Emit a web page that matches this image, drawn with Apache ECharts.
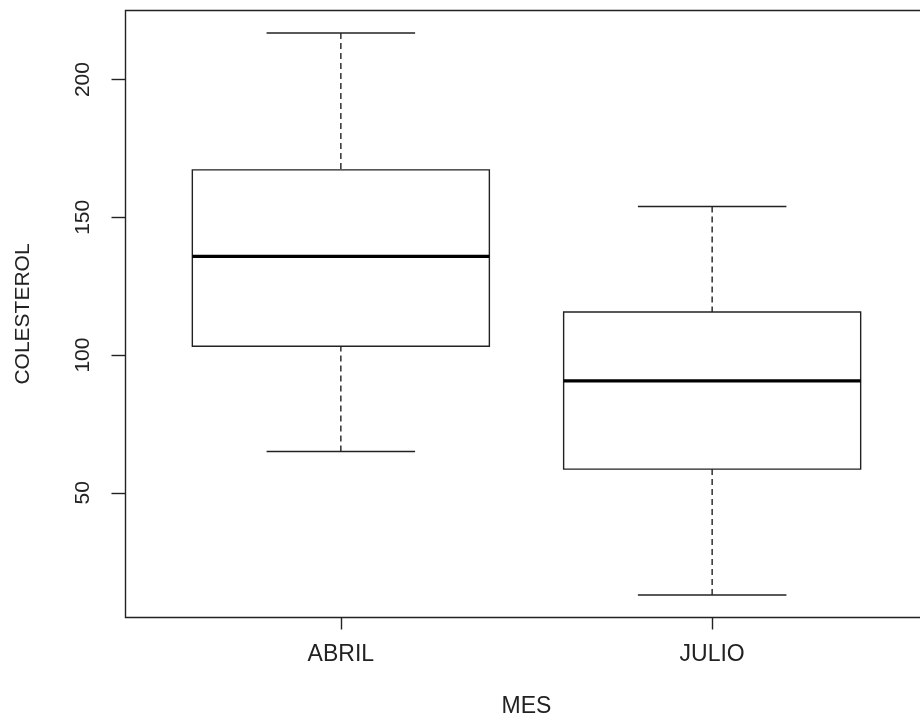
<!DOCTYPE html>
<html>
<head>
<meta charset="utf-8">
<script src="https://cdn.jsdelivr.net/npm/echarts@6/dist/echarts.min.js"></script>
<style>
html,body{margin:0;padding:0;background:#fff;}
#chart{width:920px;height:719px;}
</style>
</head>
<body>
<div id="chart"></div>
<script>
const categories = ['ABRIL', 'JULIO'];
const whiskerLow = [65.0, 12.9];
const lowerQuartile = [103.2, 58.6];
const medians = [135.8, 90.6];
const upperQuartile = [167.2, 115.6];
const whiskerHigh = [216.9, 153.9];
const yTicks = [50, 100, 150, 200];
const xTitle = 'MES';
const yTitle = 'COLESTEROL';

const boxData = categories.map((c, i) => [i + 1, whiskerLow[i], lowerQuartile[i], medians[i], upperQuartile[i], whiskerHigh[i]]);
const xTickValues = categories.map((c, i) => i + 1);

const INK = '#222';
const FONT = '"Liberation Sans", Arial, sans-serif';
const LW = 1.4;

const chart = echarts.init(document.getElementById('chart'), null, {renderer: 'canvas'});
chart.setOption({
  backgroundColor: '#fff',
  animation: false,
  grid: {
    left: 125.5, top: 10.5, bottom: 101.5, right: -7.5,
    show: true, borderColor: INK, borderWidth: LW, backgroundColor: '#fff',
    containLabel: false, outerBoundsMode: 'none'
  },
  xAxis: {
    type: 'value', min: 0.42, max: 2.58,
    name: xTitle, nameLocation: 'middle', nameGap: 78,
    nameTextStyle: {fontFamily: FONT, fontSize: 23, color: INK},
    axisLine: {show: false},
    splitLine: {show: false},
    axisTick: {show: true, customValues: xTickValues, length: 12, lineStyle: {color: INK, width: LW}},
    axisLabel: {show: true, customValues: xTickValues, margin: 26, fontFamily: FONT, fontSize: 23, color: INK,
      formatter: v => categories[Math.round(v) - 1] || ''}
  },
  yAxis: {
    type: 'value', min: 4.74, max: 225.06,
    name: yTitle, nameLocation: 'middle', nameGap: 92,
    nameTextStyle: {fontFamily: FONT, fontSize: 21, color: INK},
    axisLine: {show: false},
    splitLine: {show: false},
    axisTick: {show: true, customValues: yTicks, length: 14, lineStyle: {color: INK, width: LW}},
    axisLabel: {show: true, customValues: yTicks, rotate: 90, margin: 32, fontFamily: FONT, fontSize: 21, color: INK}
  },
  series: [{
    type: 'custom',
    data: boxData,
    encode: {x: 0, y: [1, 2, 3, 4, 5]},
    renderItem: function (params, api) {
      const x = api.value(0);
      const lo = api.value(1), q1 = api.value(2), med = api.value(3), q3 = api.value(4), hi = api.value(5);
      const bl = api.coord([x - 0.4, q1]);
      const tr = api.coord([x + 0.4, q3]);
      const mL = api.coord([x - 0.4, med]);
      const mR = api.coord([x + 0.4, med]);
      const cLo = api.coord([x, lo]);
      const cHi = api.coord([x, hi]);
      const capLoL = api.coord([x - 0.2, lo]);
      const capLoR = api.coord([x + 0.2, lo]);
      const capHiL = api.coord([x - 0.2, hi]);
      const capHiR = api.coord([x + 0.2, hi]);
      const lineStyle = {stroke: INK, lineWidth: LW, fill: null};
      const dashStyle = {stroke: INK, lineWidth: LW, lineDash: [6, 4], fill: null};
      return {
        type: 'group',
        children: [
          {type: 'line', shape: {x1: cHi[0], y1: cHi[1], x2: cHi[0], y2: tr[1]}, style: dashStyle},
          {type: 'line', shape: {x1: cLo[0], y1: cLo[1], x2: cLo[0], y2: bl[1]}, style: dashStyle},
          {type: 'line', shape: {x1: capHiL[0], y1: capHiL[1], x2: capHiR[0], y2: capHiR[1]}, style: lineStyle},
          {type: 'line', shape: {x1: capLoL[0], y1: capLoL[1], x2: capLoR[0], y2: capLoR[1]}, style: lineStyle},
          {type: 'rect', shape: {x: bl[0], y: tr[1], width: tr[0] - bl[0], height: bl[1] - tr[1]},
            style: {stroke: INK, lineWidth: LW, fill: '#fff'}},
          {type: 'line', shape: {x1: mL[0], y1: mL[1], x2: mR[0], y2: mR[1]}, style: {stroke: '#000', lineWidth: 3.2}}
        ]
      };
    }
  }]
});
</script>
</body>
</html>
